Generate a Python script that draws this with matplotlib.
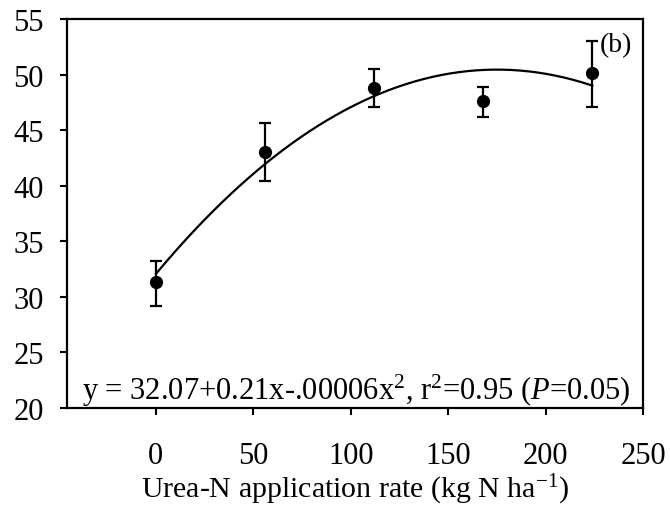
import numpy as np
import matplotlib
matplotlib.use('Agg')
import matplotlib.pyplot as plt

plt.rcParams['font.family'] = ['Liberation Serif', 'DejaVu Serif']
plt.rcParams['mathtext.fontset'] = 'custom'
plt.rcParams['mathtext.rm'] = 'Liberation Serif'
plt.rcParams['mathtext.it'] = 'Liberation Serif:italic'

# urea-N rate (kg N/ha) and measured response with error bar ends
n_rate = [0, 56, 112, 168, 224]
resp = [31.3, 43.0, 48.8, 47.6, 50.1]
err_low = [29.2, 40.4, 47.1, 46.2, 47.1]
err_high = [33.2, 45.6, 50.5, 48.9, 53.0]

# quadratic trendline coefficients (as drawn)
fit_coef = [32.07, 0.21, -0.0006]

x_ticks = [0, 50, 100, 150, 200, 250]
y_ticks = [20, 25, 30, 35, 40, 45, 50, 55]

fig = plt.figure(figsize=(6.7, 5.06), dpi=100)
ax = fig.add_axes([0.1007, 0.1917, 0.8590, 0.7688])

yerr = [np.array(resp) - np.array(err_low), np.array(err_high) - np.array(resp)]
ax.errorbar(n_rate, resp, yerr=yerr, fmt='o', color='black', markersize=8.5,
            ecolor='black', elinewidth=1.6, capsize=4.5, capthick=1.6, zorder=3)

xf = np.linspace(0, 224, 200)
yf = fit_coef[0] + fit_coef[1] * xf + fit_coef[2] * xf ** 2
ax.plot(xf, yf, color='black', lw=1.6, zorder=2)

ax.set_xlim(-45.4, 250)
ax.set_ylim(20, 55)
ax.set_xticks(x_ticks)
ax.set_yticks(y_ticks)
ax.tick_params(axis='both', direction='out', length=5, width=1.5, labelsize=22)
ax.tick_params(axis='x', pad=19)
ax.tick_params(axis='y', pad=12)
for s in ax.spines.values():
    s.set_linewidth(1.6)

ax.set_xlabel('Urea-N application rate (kg N ha$^{-1}$)', fontsize=21.5, labelpad=1)

ax.text(-38, 20.8, r'y = 32.07+0.21x-.00006x$^2$, r$^2$=0.95 ($\mathit{P}$=0.05)',
        fontsize=22, ha='left', va='baseline', zorder=4)
ax.text(228, 52.7, '(b)', fontsize=20, ha='left', va='center')

fig.savefig('out.png', dpi=100)
